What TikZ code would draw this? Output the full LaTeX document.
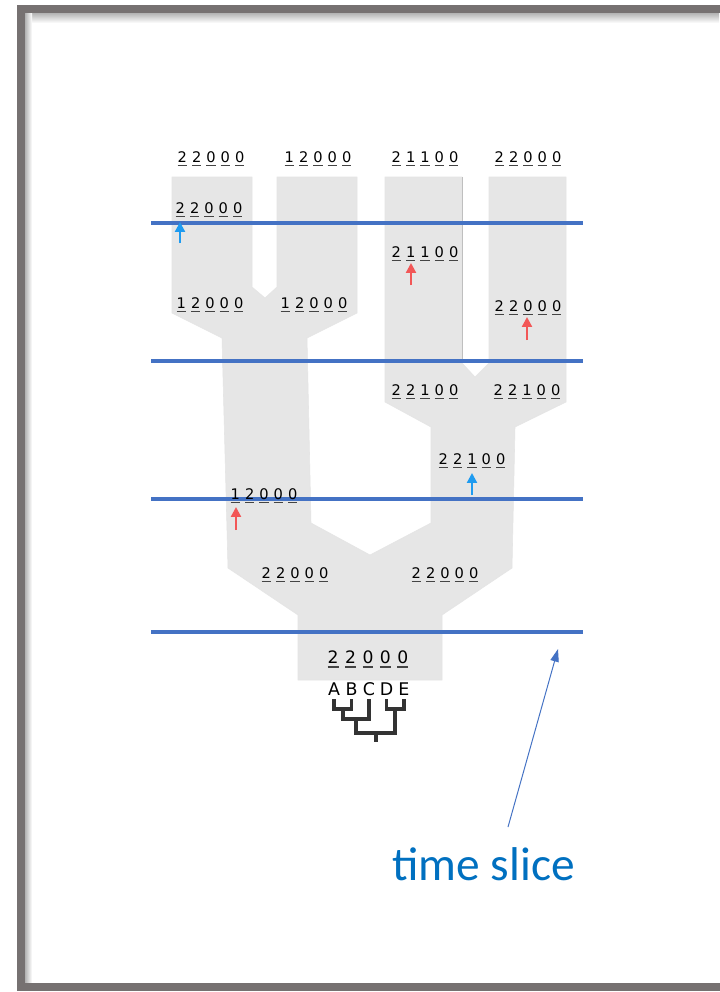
\documentclass[tikz,border=0pt]{standalone}
\usepackage{fontspec}
\newfontfamily\digitfont{DejaVu Sans}
\newfontfamily\calloutfont{Carlito}
\usetikzlibrary{arrows.meta,calc}
\definecolor{framegray}{HTML}{767171}
\definecolor{treegray}{HTML}{E6E6E6}
\definecolor{sliceblue}{HTML}{4472C4}
\definecolor{textblue}{HTML}{0070C0}
\definecolor{mutblue}{HTML}{1E9BF0}
\definecolor{mutred}{HTML}{F25757}
\definecolor{ulgray}{HTML}{444444}
\definecolor{cladogray}{HTML}{333333}
% one underlined digit, and a row of five of them
\newlength\dgw
\setlength\dgw{10.2pt}
\newcommand\dg[1]{\makebox[\dgw]{\setbox0\hbox{#1}\rlap{\color{ulgray}\rule[-0.28em]{\wd0}{0.1em}}#1}}
\newcommand\seqv[5]{\dg{#1}\dg{#2}\dg{#3}\dg{#4}\dg{#5}}
\tikzset{
  every picture/.style={line join=round, >=Stealth},
  seq/.style={anchor=base, inner sep=0pt, text=black, font=\digitfont\fontsize{10.4}{12}\selectfont},
  rootseq/.style={seq, font=\digitfont\fontsize{12.2}{14}\selectfont\setlength\dgw{12.4pt}},
  taxon/.style={anchor=base, inner sep=0pt, text=black, font=\digitfont\fontsize{12.4}{14}\selectfont},
  slice/.style={sliceblue, line width=2.7pt},
  mutup/.style={-{Triangle[length=7pt,width=7pt]}, line width=1.6pt},
  clado/.style={cladogray, line width=2.8pt, line cap=butt, line join=miter},
}

\begin{document}
\begin{tikzpicture}[x=0.025cm,y=-0.025cm]
\useasboundingbox (0,0) rectangle (719,992);
% page frame
\fill[white] (0,0) rectangle (719,992);
\shade[top color=black!30,bottom color=white] (25,13) rectangle (719,23);
\shade[left color=black!30,right color=white] (25,13) rectangle (32,983);
\draw[framegray,line width=5.7pt,line join=miter] (21,9) rectangle (760,986.5);
% gene tree inside the species tree
\fill[treegray,draw=black!10,line width=0.4pt] (172,177) -- (252,177) -- (252,287) -- (265,298) -- (277,287)
  -- (277,177) -- (357,177) -- (357,313) -- (307,338) -- (311,523) -- (370,555) -- (431,523)
  -- (431,427) -- (385,402) -- (385,177) -- (462,177) -- (462,363) -- (475,377) -- (489,363)
  -- (489,177) -- (566,177) -- (566,402) -- (515,427) -- (512,568) -- (442,615) -- (442,680)
  -- (298,680) -- (298,615) -- (228,568) -- (222,338) -- (172,313) -- cycle;
\draw[black!25,line width=0.6pt] (462,177) -- (462,363);
% time slices
\foreach \y in {223,361,499,632}
  \draw[slice] (151,\y) -- (583,\y);
% sequences
\node[seq] (s1) at (211,162) {\seqv 22000};
\node[seq] (s2) at (318,162) {\seqv 12000};
\node[seq] (s3) at (425,162) {\seqv 21100};
\node[seq] (s4) at (528,162) {\seqv 22000};
\node[seq] (s5) at (209,213) {\seqv 22000};
\node[seq] (s6) at (425,257) {\seqv 21100};
\node[seq] (s7) at (210,308) {\seqv 12000};
\node[seq] (s8) at (314,308) {\seqv 12000};
\node[seq] (s9) at (528,311) {\seqv 22000};
\node[seq] (s10) at (425,395) {\seqv 22100};
\node[seq] (s11) at (527,395) {\seqv 22100};
\node[seq] (s12) at (472,464) {\seqv 22100};
\node[seq] (s13) at (264,499) {\seqv 12000};
\node[seq] (s14) at (295,578) {\seqv 22000};
\node[seq] (s15) at (445,578) {\seqv 22000};
\node[rootseq] (s16) at (368,663) {\seqv 22000};
% mutations
\draw[mutup,mutblue] (180,243) -- (180,222);
\draw[mutup,mutred] (411,285) -- (411,263);
\draw[mutup,mutred] (527,340) -- (527,317);
\draw[mutup,mutblue] (472,495) -- (472,473);
\draw[mutup,mutred] (236,530) -- (236,507);
% species
\node[taxon] (A) at (334,695) {A};
\node[taxon] (B) at (351.5,695) {B};
\node[taxon] (C) at (369,695) {C};
\node[taxon] (D) at (386.5,695) {D};
\node[taxon] (E) at (404,695) {E};
\coordinate (lv0) at (0,699);
\coordinate (lv1) at (0,709);
\coordinate (lv2) at (0,719);
\coordinate (lv3) at (0,733);
\coordinate (lv4) at (0,742);
\coordinate (ab) at ($(A|-lv1)!0.5!(B|-lv1)$);
\coordinate (de) at ($(D|-lv1)!0.5!(E|-lv1)$);
\coordinate (abc) at ($(ab|-lv2)!0.5!(C|-lv2)$);
\coordinate (all) at ($(abc|-lv3)!0.5!(de|-lv3)$);
\draw[clado] (A|-lv0) |- (B|-lv1) -- (B|-lv0);
\draw[clado] (D|-lv0) |- (E|-lv1) -- (E|-lv0);
\draw[clado] (ab) |- (C|-lv2) -- (C|-lv0);
\draw[clado] (abc) |- (de|-lv3) -- (de);
\draw[clado] (all) -- (all|-lv4);
% callout
\node[anchor=base,inner sep=0pt,text=textblue,font=\calloutfont\fontsize{33.7}{40}\selectfont] (lbl) at (483.5,880) {time slice};
\coordinate (tail) at (508,827);
\coordinate (head) at (558,649);
\draw[sliceblue,line width=0.7pt,-{Triangle[length=9pt,width=6pt]}] (tail) -- (head);
\end{tikzpicture}
\end{document}
